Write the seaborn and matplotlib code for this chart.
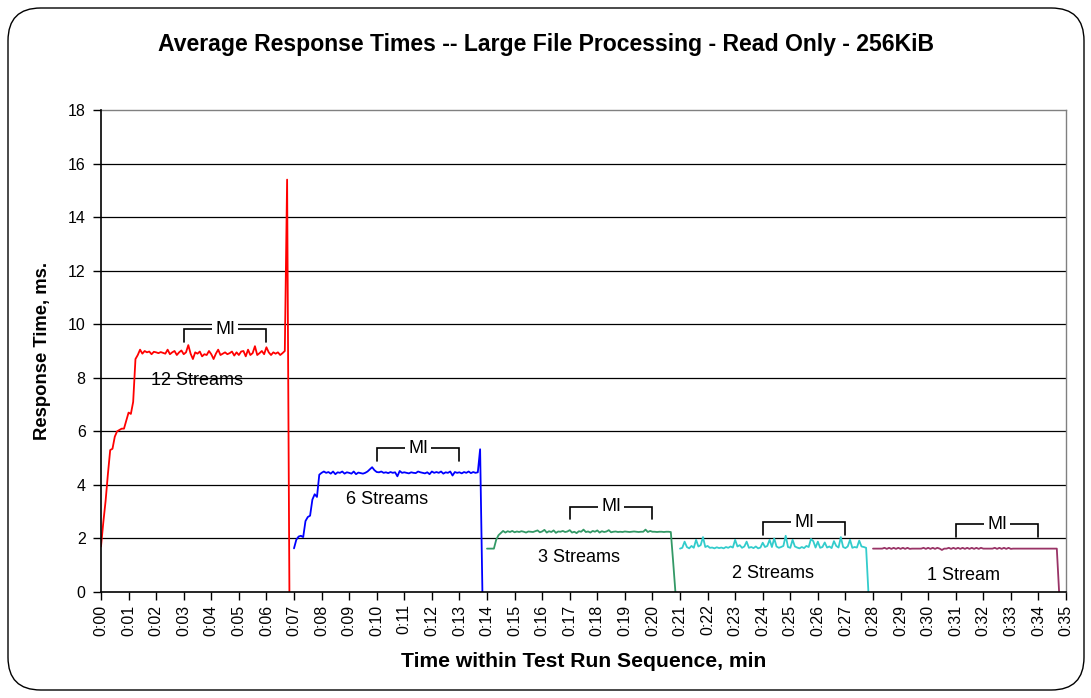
import numpy as np
import pandas as pd
import matplotlib
matplotlib.use("Agg")
import matplotlib.pyplot as plt
from matplotlib.patches import FancyBboxPatch
import seaborn as sns

# ---------------- data (5-second samples) ----------------
series_names = ["12 Streams", "6 Streams", "3 Streams", "2 Streams", "1 Stream"]
series_colors = ["#FF0000", "#0000FF", "#339966", "#33CCCC", "#993366"]
series_start_sample = [0, 84, 168, 252, 336]
sample_seconds = 5

streams12 = [1.7, 2.6, 3.4, 4.4, 5.3, 5.35, 5.8, 6.0, 6.05, 6.1, 6.1, 6.4, 6.7, 6.65, 7.1, 8.7, 8.85,
             9.05, 8.9, 9.0, 8.95, 8.98, 8.88, 8.97, 8.95, 8.92, 8.96, 8.93, 8.9, 9.05, 8.88, 8.95, 9.0,
             8.85, 8.95, 9.02, 8.88, 8.95, 9.22, 8.9, 8.7, 8.95, 8.9, 8.98, 8.8, 8.88, 8.85, 9.0, 8.88,
             8.7, 8.9, 9.05, 8.85, 8.9, 8.95, 8.88, 8.92, 8.98, 8.83, 8.95, 8.85, 8.98, 9.0, 8.8, 9.05,
             8.85, 8.92, 9.18, 8.85, 8.92, 9.0, 8.88, 9.14, 8.95, 8.85, 8.95, 8.9, 8.95, 8.85, 8.92, 9.0,
             15.4, 0.0]
streams6 = [1.63, 1.95, 2.07, 2.1, 2.05, 2.65, 2.8, 2.85, 3.45, 3.65, 3.55, 4.38, 4.45,
            4.5, 4.45, 4.48, 4.42, 4.5, 4.4, 4.47, 4.45, 4.5, 4.42, 4.47, 4.45, 4.42, 4.5, 4.4, 4.46,
            4.44, 4.42, 4.45, 4.5, 4.58, 4.66, 4.55, 4.48, 4.47, 4.5, 4.45, 4.47, 4.44, 4.48, 4.45, 4.47,
            4.32, 4.52, 4.45, 4.47, 4.45, 4.43, 4.47, 4.45, 4.44, 4.5, 4.47, 4.45, 4.43, 4.47, 4.4, 4.5,
            4.45, 4.48, 4.45, 4.5, 4.42, 4.47, 4.45, 4.5, 4.35, 4.48, 4.45, 4.47, 4.43, 4.48, 4.45, 4.5,
            4.44, 4.48, 4.45, 4.47, 5.33, 0.0]
streams3 = [1.62, 1.62, 1.62, 1.62, 1.95, 2.12, 2.2, 2.28, 2.22, 2.27, 2.24, 2.28, 2.23, 2.26, 2.24,
            2.27, 2.25, 2.22, 2.26, 2.25, 2.24, 2.27, 2.3, 2.23, 2.26, 2.32, 2.22, 2.27, 2.24, 2.3, 2.21,
            2.26, 2.25, 2.28, 2.24, 2.26, 2.31, 2.22, 2.25, 2.2, 2.27, 2.25, 2.33, 2.24, 2.26, 2.22, 2.28,
            2.25, 2.3, 2.22, 2.27, 2.24, 2.26, 2.31, 2.23, 2.25, 2.26, 2.24, 2.25, 2.24, 2.26, 2.25, 2.24,
            2.25, 2.26, 2.25, 2.24, 2.25, 2.25, 2.33, 2.24, 2.28, 2.25, 2.25, 2.24, 2.25, 2.25, 2.24, 2.25,
            2.25, 2.24, 1.15, 0.0]
streams2 = [1.62, 1.65, 1.88, 1.68, 1.63, 1.72, 1.65, 1.95, 1.7, 1.75, 2.05, 1.68, 1.72, 1.65, 1.66,
            1.63, 1.67, 1.64, 1.66, 1.63, 1.68, 1.65, 1.7, 1.66, 1.95, 1.7, 1.75, 1.65, 1.7, 1.88, 1.65,
            1.68, 1.64, 1.7, 1.63, 1.66, 1.84, 1.68, 1.72, 1.95, 1.68, 2.0, 1.7, 1.65, 1.68, 1.72, 2.1,
            1.68, 1.65, 1.95, 1.7, 1.66, 1.63, 1.68, 1.64, 1.72, 1.68, 1.98, 1.9, 1.66, 1.88, 1.65, 1.68,
            1.85, 1.66, 1.7, 1.64, 1.9, 1.72, 1.66, 2.05, 1.68, 1.64, 1.7, 1.95, 1.65, 1.68, 1.66, 1.92,
            1.7, 1.68, 1.65, 0.0]
streams1 = [1.62, 1.62, 1.62, 1.62, 1.62, 1.65, 1.61, 1.65, 1.61, 1.65, 1.61, 1.65, 1.61, 1.65, 1.61,
            1.65, 1.61, 1.62, 1.62, 1.62, 1.62, 1.62, 1.65, 1.61, 1.65, 1.61, 1.65, 1.61, 1.65, 1.62,
            1.57, 1.62, 1.62, 1.65, 1.61, 1.65, 1.61, 1.65, 1.61, 1.65, 1.61, 1.65, 1.61, 1.65, 1.61,
            1.65, 1.61, 1.65, 1.62, 1.62, 1.62, 1.62, 1.62, 1.65, 1.61, 1.65, 1.61, 1.65, 1.61, 1.65,
            1.61, 1.62, 1.62, 1.62, 1.62, 1.62, 1.62, 1.62, 1.62, 1.62, 1.62, 1.62, 1.62, 1.62, 1.62,
            1.62, 1.62, 1.62, 1.62, 1.62, 1.62, 0.0]
series_values = [streams12, streams6, streams3, streams2, streams1]

x_tick_labels = ["0:%02d" % m for m in range(36)]
y_ticks = [0, 2, 4, 6, 8, 10, 12, 14, 16, 18]

# series label positions (minutes, ms)
label_x = [3.47, 10.39, 17.34, 24.39, 31.3]
label_y = [7.9, 3.47, 1.3, 0.7, 0.6]
# measurement interval brackets (minutes, ms)
mi_start = [3, 10, 17, 24, 31]
mi_end = [6, 13, 20, 27, 34]
mi_level = [9.81, 5.37, 3.19, 2.6, 2.53]
mi_drop = 0.48

title = "Average Response Times -- Large File Processing - Read Only - 256KiB"
xlabel = "Time within Test Run Sequence, min"
ylabel = "Response Time, ms."

# ---------------- build long table ----------------
frames = []
for name, start, vals in zip(series_names, series_start_sample, series_values):
    n = len(vals)
    minutes = (start + np.arange(n)) * sample_seconds / 60.0
    frames.append(pd.DataFrame({"minute": minutes, "ms": vals, "series": name}))
df = pd.concat(frames, ignore_index=True)

# ---------------- plot ----------------
sns.set_theme(style="white")
plt.rcParams["font.family"] = ["Liberation Sans", "DejaVu Sans"]
plt.rcParams["text.color"] = "black"
plt.rcParams["axes.labelcolor"] = "black"
plt.rcParams["xtick.color"] = "black"
plt.rcParams["ytick.color"] = "black"

W, H = 1091, 698
fig = plt.figure(figsize=(W / 100, H / 100), dpi=100)
fig.patch.set_facecolor("white")

# outer rounded chart border
border = FancyBboxPatch((8 / W, 8 / H), (1084 - 8) / W, (690 - 8) / H,
                        boxstyle="round,pad=0,rounding_size=0.03",
                        transform=fig.transFigure, fill=False, edgecolor="black",
                        linewidth=1.0, mutation_aspect=W / H)
fig.patches.append(border)

left, right, top, bottom = 101, 1066, 110, 592
ax = fig.add_axes([left / W, 1 - bottom / H, (right - left) / W, (bottom - top) / H])

for name, color in zip(series_names, series_colors):
    sub = df[df["series"] == name]
    sns.lineplot(data=sub, x="minute", y="ms", color=color, linewidth=1.3,
                 estimator=None, sort=False, ax=ax, legend=False, zorder=3)

ax.set_xlim(0, 35)
ax.set_ylim(0, 18)
ax.set_xticks(range(36))
ax.set_xticklabels(x_tick_labels, rotation=90, fontsize=11.5, color="black")
ax.set_yticks(y_ticks)
ax.set_yticklabels([str(v) for v in y_ticks], fontsize=11.5, color="black")
ax.tick_params(axis="both", direction="out", length=6, width=1, color="black",
               bottom=True, left=True, pad=3)
ax.tick_params(axis="y", pad=5)
for gy in y_ticks[1:-1]:
    ax.axhline(gy, color="black", linewidth=0.9, zorder=1)

for s in ["top", "right"]:
    ax.spines[s].set_color("#808080")
    ax.spines[s].set_linewidth(1.0)
for s in ["left", "bottom"]:
    ax.spines[s].set_color("black")
    ax.spines[s].set_linewidth(1.2)
    ax.spines[s].set_zorder(4)

ax.set_xlabel(xlabel, fontsize=15.2, fontweight="bold", labelpad=12, color="black")
ax.set_ylabel(ylabel, fontsize=13.3, fontweight="bold", labelpad=12, color="black")

# series labels
for name, lx, ly in zip(series_names, label_x, label_y):
    ax.text(lx, ly, name, ha="center", va="center", fontsize=13, zorder=5, color="black")

# MI brackets
for s, e, lvl in zip(mi_start, mi_end, mi_level):
    ax.plot([s, s, e, e], [lvl - mi_drop, lvl, lvl, lvl - mi_drop], color="black",
            linewidth=1.2, zorder=5, solid_joinstyle="miter")
    ax.text((s + e) / 2, lvl, "MI", ha="center", va="center", fontsize=13, zorder=6,
            color="black",
            bbox=dict(boxstyle="square,pad=0.15", facecolor="white", edgecolor="none"))

fig.text(0.5, 1 - 45 / H, title, ha="center", va="center", fontsize=16.6,
         fontweight="bold", color="black")

fig.savefig("out.png", dpi=100, facecolor="white")
